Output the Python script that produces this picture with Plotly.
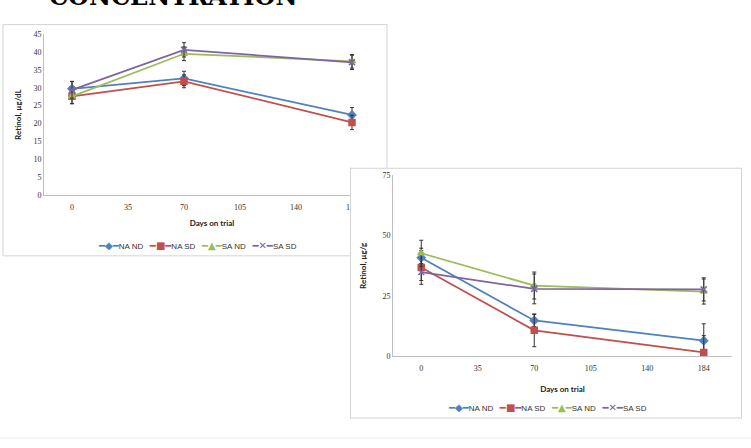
import plotly.graph_objects as go

# Category labels on the x axis (days on trial)
tick_days = ["0", "35", "70", "105", "140", "184"]
days = ["0", "70", "184"]
series_names = ["NA ND", "NA SD", "SA ND", "SA SD"]

# Serum retinol, ug/dL (top-left chart)
serum_na_nd = [29.7, 32.6, 22.4]
serum_na_sd = [27.6, 31.8, 20.3]
serum_sa_nd = [27.6, 39.5, 37.4]
serum_sa_sd = [29.4, 40.6, 37.1]
serum_na_nd_err = [2.1, 2.0, 2.1]
serum_na_sd_err = [2.1, 1.8, 2.0]
serum_sa_nd_err = [2.0, 1.9, 1.9]
serum_sa_sd_err = [2.3, 2.0, 2.0]

# Liver retinol, ug/g (bottom-right chart)
liver_na_nd = [40.8, 14.8, 6.4]
liver_na_sd = [36.8, 10.7, 1.5]
liver_sa_nd = [42.7, 29.3, 26.8]
liver_sa_sd = [34.9, 27.9, 27.7]
liver_na_nd_err = [4.0, 2.5, 7.0]
liver_na_sd_err = [7.0, 6.8, 7.0]
liver_sa_nd_err = [5.4, 5.6, 5.2]
liver_sa_sd_err = [3.5, 6.2, 4.8]

W, H = 751, 448
colors = ["#4F81BD", "#C0504D", "#9BBB59", "#8064A2"]
symbols = ["diamond", "square", "triangle-up", "x-thin-open"]
msizes = [6, 6, 6, 6]
legend_glyphs = ["◆", "■", "▲", "✕"]

TICK_FONT = dict(family="Liberation Serif", size=8, color="#333333")
TITLE_FONT = dict(family="Lato", size=8, color="#222222", weight="bold")
LEG_FONT = dict(family="Liberation Sans Narrow, Liberation Sans", size=8, color="#333333")
BORDER = "#d4d4d4"
AXLINE = "#bfbfbf"


def px_x(p):
    return p / W


def px_y(p):
    return 1 - p / H


def legend_text():
    parts = []
    for name, c, g in zip(series_names, colors, legend_glyphs):
        parts.append(
            f'<span style="color:{c};font-family:DejaVu Sans;font-size:10px">━{g}━</span>'
            f'{name}')
    return ("\u00a0" * 3).join(parts)


fig = go.Figure()

serum = [serum_na_nd, serum_na_sd, serum_sa_nd, serum_sa_sd]
serum_err = [serum_na_nd_err, serum_na_sd_err, serum_sa_nd_err, serum_sa_sd_err]
liver = [liver_na_nd, liver_na_sd, liver_sa_nd, liver_sa_sd]
liver_err = [liver_na_nd_err, liver_na_sd_err, liver_sa_nd_err, liver_sa_sd_err]

for i, name in enumerate(series_names):
    fig.add_trace(go.Scatter(
        x=days, y=serum[i], name=name, mode="lines+markers",
        xaxis="x", yaxis="y",
        line=dict(color=colors[i], width=1.75),
        marker=dict(symbol=symbols[i], size=msizes[i], color=colors[i],
                    line=dict(color=colors[i], width=1.5)),
        error_y=dict(type="data", array=serum_err[i], color="#333333",
                     thickness=1, width=2),
        cliponaxis=False,
    ))

# empty trace so the cover subplot exists
fig.add_trace(go.Scatter(x=[], y=[], xaxis="x2", yaxis="y2"))

for i, name in enumerate(series_names):
    fig.add_trace(go.Scatter(
        x=days, y=liver[i], name=name, mode="lines+markers",
        xaxis="x3", yaxis="y3",
        line=dict(color=colors[i], width=1.75),
        marker=dict(symbol=symbols[i], size=msizes[i], color=colors[i],
                    line=dict(color=colors[i], width=1.5)),
        error_y=dict(type="data", array=liver_err[i], color="#333333",
                     thickness=1, width=2),
        cliponaxis=False,
    ))

cat_axis = dict(
    type="category", categoryorder="array", categoryarray=tick_days,
    tickvals=tick_days, range=[-0.5, 5.5],
    showline=True, linecolor=AXLINE, linewidth=1, showgrid=False,
    ticks="", tickfont=TICK_FONT, zeroline=False, fixedrange=True,
    ticklabelstandoff=4,
)
val_axis = dict(
    showline=True, linecolor=AXLINE, linewidth=1, showgrid=False,
    ticks="", tickfont=TICK_FONT, zeroline=False, fixedrange=True,
)

fig.update_layout(
    width=W, height=H,
    margin=dict(l=0, r=0, t=0, b=0),
    paper_bgcolor="white", plot_bgcolor="white",
    showlegend=False,
    xaxis=dict(cat_axis, domain=[px_x(44), px_x(380)], anchor="y",
               title=dict(text="Days on trial", font=TITLE_FONT, standoff=9)),
    yaxis=dict(val_axis, domain=[px_y(195), px_y(30.7)], anchor="x",
               range=[0, 45], dtick=5,
               title=dict(text="Retinol, µg/dL", font=TITLE_FONT, standoff=10)),
    xaxis2=dict(domain=[px_x(350), px_x(742)], anchor="y2", range=[0, 1],
                visible=False, fixedrange=True),
    yaxis2=dict(domain=[px_y(423), px_y(167)], anchor="x2", range=[0, 1],
                visible=False, fixedrange=True),
    xaxis3=dict(cat_axis, domain=[px_x(393), px_x(732)], anchor="y3",
                title=dict(text="Days on trial", font=TITLE_FONT, standoff=14)),
    yaxis3=dict(val_axis, domain=[px_y(359.3), px_y(175)], anchor="x3",
                range=[0, 75], dtick=25,
                title=dict(text="Retinol, µg/g", font=TITLE_FONT, standoff=14)),
    shapes=[
        # frame of the serum chart (behind everything)
        dict(type="rect", xref="paper", yref="paper", layer="below",
             x0=px_x(3), x1=px_x(387), y0=px_y(257), y1=px_y(21),
             line=dict(color=BORDER, width=1), fillcolor="white"),
        # frame of the liver chart, drawn in the cover subplot so it hides the first chart
        dict(type="rect", xref="x2", yref="y2", layer="below",
             x0=0, x1=1, y0=0, y1=1,
             line=dict(color=BORDER, width=2), fillcolor="white"),
        # faint slide rule near the bottom
        dict(type="line", xref="paper", yref="paper", layer="below",
             x0=0, x1=1, y0=px_y(443), y1=px_y(443),
             line=dict(color="#ececec", width=1)),
    ],
    annotations=[
        dict(text="<b>CONCENTRATION</b>", xref="paper", yref="paper",
             x=px_x(47), y=px_y(9), xanchor="left", yanchor="bottom",
             showarrow=False,
             font=dict(family="DejaVu Serif", size=24, color="black")),
        dict(text=legend_text(), xref="paper", yref="paper",
             x=px_x(197), y=px_y(246), xanchor="center", yanchor="middle",
             showarrow=False, font=LEG_FONT),
        dict(text=legend_text(), xref="paper", yref="paper",
             x=px_x(547), y=px_y(412), xanchor="center", yanchor="middle",
             showarrow=False, font=LEG_FONT),
    ],
)

fig.write_html("out.html", config={"displayModeBar": False},
               post_script="document.body.style.margin='0';")
